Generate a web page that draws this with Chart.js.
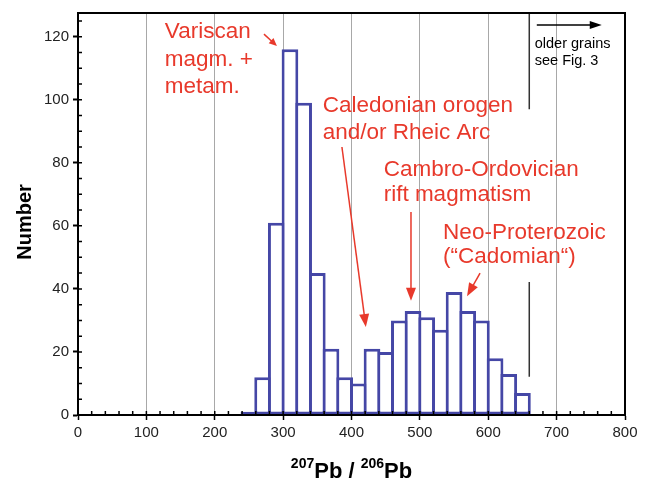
<!DOCTYPE html>
<html lang="en">
<head>
<meta charset="UTF-8">
<title>207Pb/206Pb age histogram</title>
<script src="https://cdn.jsdelivr.net/npm/chart.js"></script>
<style>
    body { margin: 0; background: #fff; }
    .wrap { width: 651px; height: 482px; position: relative; }
</style>
</head>
<body>
<div class="wrap"><canvas id="histChart"></canvas></div>
<script>
    // histogram bins, 20 Ma wide (start of each bin)
    const binWidth = 20;
    const binStarts = [240, 260, 280, 300, 320, 340, 360, 380, 400, 420, 440, 460, 480, 500, 520, 540, 560, 580, 600, 620, 640];
    const counts = [1, 12, 61, 116, 99, 45, 21, 12, 10, 21, 20, 30, 33, 31, 27, 39, 33, 30, 18, 13, 7];

    const xTicks = [0, 100, 200, 300, 400, 500, 600, 700, 800];
    const yTicks = [0, 20, 40, 60, 80, 100, 120];

    // red annotations (data coordinates, one y per text line)
    const noteX = [127, 358, 447, 534];
    const noteLines = [
        ['Variscan', 'magm. +', 'metam.'],
        ['Caledonian orogen', 'and/or Rheic Arc'],
        ['Cambro-Ordovician', 'rift magmatism'],
        ['Neo-Proterozoic', '(\u201cCadomian\u201c)']
    ];
    const noteY = [
        [119.6, 110.7, 102.1],
        [96.1, 87.5],
        [75.8, 67.9],
        [55.8, 48.2]
    ];
    // arrows: [x0, y0, x1, y1]
    const redArrows = [
        [272, 120.8, 291, 117.0],
        [386, 85.0, 421, 27.9],
        [487, 64.4, 487, 36.2],
        [588, 45.0, 569, 37.7]
    ];

    const font = "'Liberation Sans', Arial, Helvetica, sans-serif";
    const red = '#e8392b';
    const blue = '#4547a6';

    const barData = binStarts.map((s, i) => ({ x: s + binWidth / 2, y: counts[i] }));

    function arrowHead(ctx, x0, y0, x1, y1, len, half) {
        const a = Math.atan2(y1 - y0, x1 - x0);
        ctx.beginPath();
        ctx.moveTo(x1, y1);
        ctx.lineTo(x1 - len * Math.cos(a) + half * Math.sin(a), y1 - len * Math.sin(a) - half * Math.cos(a));
        ctx.lineTo(x1 - len * Math.cos(a) - half * Math.sin(a), y1 - len * Math.sin(a) + half * Math.cos(a));
        ctx.closePath();
        ctx.fill();
    }

    // frame, minor ticks and axis titles
    const framePlugin = {
        id: 'frame',
        afterDraw(chart) {
            const ctx = chart.ctx;
            const a = chart.chartArea;
            const xs = chart.scales.x, ys = chart.scales.y;
            ctx.save();
            ctx.strokeStyle = '#000';
            ctx.lineWidth = 2;
            ctx.strokeRect(a.left, a.top, a.right - a.left, a.bottom - a.top);

            // inner minor ticks
            ctx.lineWidth = 1.5;
            ctx.beginPath();
            for (let v = 5; v <= 125; v += 5) {
                const py = ys.getPixelForValue(v);
                ctx.moveTo(a.left, py);
                ctx.lineTo(a.left + 4, py);
            }
            for (let v = 20; v < 800; v += 20) {
                const px = xs.getPixelForValue(v);
                ctx.moveTo(px, a.bottom);
                ctx.lineTo(px, a.bottom - 4);
            }
            ctx.stroke();

            // y title
            ctx.fillStyle = '#000';
            ctx.font = 'bold 20px ' + font;
            ctx.textAlign = 'center';
            ctx.textBaseline = 'alphabetic';
            ctx.save();
            ctx.translate(31, 222);
            ctx.rotate(-Math.PI / 2);
            ctx.fillText('Number', 0, 0);
            ctx.restore();

            // x title with superscripts
            const parts = [['207', true], ['Pb / ', false], ['206', true], ['Pb', false]];
            const sup = 'bold 14px ' + font, big = 'bold 22px ' + font;
            let total = 0;
            parts.forEach(p => { ctx.font = p[1] ? sup : big; total += ctx.measureText(p[0]).width; });
            let x = (a.left + a.right) / 2 - total / 2;
            ctx.textAlign = 'left';
            parts.forEach(p => {
                ctx.font = p[1] ? sup : big;
                ctx.fillText(p[0], x, p[1] ? 468 : 478);
                x += ctx.measureText(p[0]).width;
            });
            ctx.restore();
        }
    };

    const notesPlugin = {
        id: 'notes',
        afterDatasetsDraw(chart) {
            const ctx = chart.ctx;
            const xs = chart.scales.x, ys = chart.scales.y;
            ctx.save();
            ctx.fillStyle = red;
            ctx.strokeStyle = red;
            ctx.font = '22.5px ' + font;
            ctx.textAlign = 'left';
            ctx.textBaseline = 'alphabetic';
            noteLines.forEach((lines, i) => {
                lines.forEach((t, j) => {
                    ctx.fillText(t, xs.getPixelForValue(noteX[i]), ys.getPixelForValue(noteY[i][j]));
                });
            });
            ctx.lineWidth = 1.5;
            redArrows.forEach((r, i) => {
                const x0 = xs.getPixelForValue(r[0]), y0 = ys.getPixelForValue(r[1]);
                const x1 = xs.getPixelForValue(r[2]), y1 = ys.getPixelForValue(r[3]);
                const len = i === 0 ? 8 : 13, half = i === 0 ? 3.5 : 5;
                const a = Math.atan2(y1 - y0, x1 - x0);
                ctx.beginPath();
                ctx.moveTo(x0, y0);
                ctx.lineTo(x1 - len * 0.8 * Math.cos(a), y1 - len * 0.8 * Math.sin(a));
                ctx.stroke();
                arrowHead(ctx, x0, y0, x1, y1, len, half);
            });

            // "older grains" marker
            const gx = xs.getPixelForValue(660);
            ctx.strokeStyle = '#333';
            ctx.fillStyle = '#000';
            ctx.lineWidth = 1.5;
            ctx.beginPath();
            ctx.moveTo(gx, ys.getPixelForValue(127.5));
            ctx.lineTo(gx, ys.getPixelForValue(97.0));
            ctx.moveTo(gx, ys.getPixelForValue(42.2));
            ctx.lineTo(gx, ys.getPixelForValue(12.1));
            ctx.stroke();
            const ax0 = xs.getPixelForValue(671), ax1 = xs.getPixelForValue(766), ay = ys.getPixelForValue(123.7);
            ctx.strokeStyle = '#000';
            ctx.beginPath();
            ctx.moveTo(ax0, ay);
            ctx.lineTo(ax1 - 8, ay);
            ctx.stroke();
            arrowHead(ctx, ax0, ay, ax1, ay, 12, 4);
            ctx.font = '14.5px ' + font;
            ctx.fillText('older grains', xs.getPixelForValue(668), ys.getPixelForValue(116.4));
            ctx.fillText('see Fig. 3', xs.getPixelForValue(668), ys.getPixelForValue(111.0));
            ctx.restore();
        }
    };

    new Chart(document.getElementById('histChart'), {
        type: 'bar',
        data: {
            datasets: [{
                data: barData,
                backgroundColor: '#fff',
                borderColor: blue,
                borderWidth: 3,
                borderSkipped: false,
                categoryPercentage: 1,
                barPercentage: 1.22
            }]
        },
        options: {
            responsive: true,
            maintainAspectRatio: false,
            animation: false,
            layout: { padding: { top: 13, right: 26, left: 0, bottom: 0 } },
            plugins: { legend: { display: false }, tooltip: { enabled: false } },
            scales: {
                x: {
                    type: 'linear',
                    min: 0,
                    max: 800,
                    offset: false,
                    afterBuildTicks: s => { s.ticks = xTicks.map(v => ({ value: v })); },
                    afterFit: s => { s.height = 67; },
                    grid: { offset: false, color: '#a8a8a8', lineWidth: 1, tickLength: 5, tickColor: '#000', tickWidth: 1.5 },
                    border: { color: '#000', width: 2 },
                    ticks: { font: { family: font, size: 15 }, color: '#222', padding: 4, maxRotation: 0 }
                },
                y: {
                    min: 0,
                    max: 127.5,
                    afterBuildTicks: s => { s.ticks = yTicks.map(v => ({ value: v })); },
                    afterFit: s => { s.width = 78; },
                    grid: { drawOnChartArea: false, tickLength: 5, tickColor: '#000', tickWidth: 2 },
                    border: { color: '#000', width: 2 },
                    ticks: { font: { family: font, size: 15 }, color: '#222', padding: 4 }
                }
            }
        },
        plugins: [framePlugin, notesPlugin]
    });
</script>
</body>
</html>
